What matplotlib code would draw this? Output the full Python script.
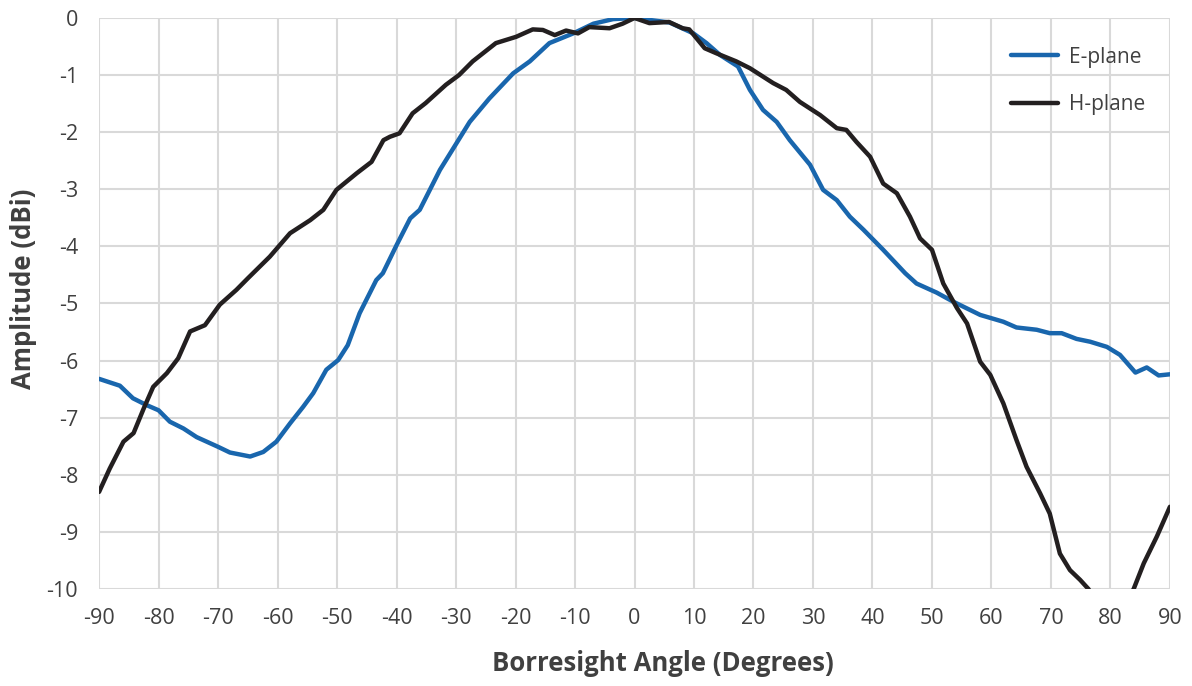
import matplotlib.pyplot as plt

# E-plane (blue)
e_angle = [-90, -86.5, -84.3, -82, -80, -78.1, -75.8, -73.6, -70, -68, -64.6, -62.4,
           -60.2, -57.9, -55.7, -54, -51.8, -49.8, -48.2, -46.2, -43.4, -42.3, -40,
           -37.7, -36.1, -32.7, -29.9, -27.7, -24.4, -20.4, -17.6, -14.3, -10.3, -6.9,
           -3.6, 0, 5.9, 9.9, 12.1, 14.4, 17.4, 19.4, 21.6, 23.9, 26.1, 29.5, 31.7,
           34, 36.2, 38.5, 41.8, 45.5, 47.4, 50.8, 53.6, 58.1, 62, 64.2, 67.6, 69.8,
           71.8, 74.3, 76.6, 79.4, 81.6, 84.2, 86.1, 88.1, 90]
e_amp = [-6.32, -6.44, -6.66, -6.78, -6.87, -7.07, -7.19, -7.34, -7.51, -7.61, -7.68, -7.60,
         -7.42, -7.10, -6.81, -6.57, -6.16, -5.99, -5.73, -5.17, -4.59, -4.47, -3.98,
         -3.51, -3.36, -2.66, -2.19, -1.82, -1.41, -0.97, -0.76, -0.44, -0.27, -0.10,
         -0.02, 0.0, -0.08, -0.27, -0.44, -0.65, -0.85, -1.26, -1.61, -1.82, -2.14, -2.57, -3.01,
         -3.19, -3.48, -3.71, -4.06, -4.47, -4.65, -4.81, -4.97, -5.20, -5.32, -5.42, -5.46, -5.52,
         -5.52, -5.62, -5.67, -5.76, -5.90, -6.21, -6.12, -6.26, -6.24]

# H-plane (black)
h_angle = [-90, -88.2, -85.9, -84.2, -82.5, -80.9, -78.6, -76.7, -74.7, -72.2, -69.7,
           -66.9, -65, -61.3, -57.9, -54.5, -52.3, -50.1, -46.7, -44.2, -42.2, -41.1,
           -39.5, -37.3, -35.1, -31.7, -29.5, -27.2, -23.3, -19.9, -17.1, -15.4, -13.4,
           -11.5, -9.5, -7.6, -4.2, -2, 0, 2.5, 5.8, 8.1, 9.2, 11.8, 13.8, 17.1, 19.4,
           23.3, 25.5, 27.8, 31.2, 34, 35.6, 37.3, 39.6, 41.8, 44.1, 46.3, 48, 50,
           51.9, 54.2, 55.9, 58.1, 59.8, 62, 64.2, 65.9, 68.2, 69.8, 71.5, 73.2, 74.9,
           76.3, 78, 80, 82, 83.9, 85.6, 87.8, 90]
h_amp = [-8.30, -7.89, -7.42, -7.27, -6.84, -6.46, -6.22, -5.96, -5.49, -5.38, -5.02,
         -4.76, -4.56, -4.18, -3.77, -3.54, -3.36, -3.01, -2.72, -2.52, -2.14, -2.08,
         -2.02, -1.67, -1.49, -1.17, -1.00, -0.76, -0.44, -0.33, -0.20, -0.21, -0.30,
         -0.22, -0.27, -0.16, -0.18, -0.10, 0.0, -0.09, -0.07, -0.18, -0.20, -0.53, -0.62, -0.76, -0.88,
         -1.14, -1.26, -1.47, -1.70, -1.93, -1.96, -2.17, -2.43, -2.90, -3.07, -3.48, -3.86, -4.06,
         -4.65, -5.08, -5.35, -6.02, -6.25, -6.75, -7.39, -7.86, -8.33, -8.68, -9.38, -9.67, -9.84,
         -10.0, -10.3, -10.45, -10.35, -10.0, -9.55, -9.08, -8.56]

x_ticks = list(range(-90, 91, 10))
y_ticks = list(range(-10, 1))

TEXT = "#404040"
plt.rcParams["font.family"] = ["Open Sans", "DejaVu Sans"]
plt.rcParams["axes.unicode_minus"] = False

fig = plt.figure(figsize=(11.92, 6.86), dpi=100)
ax = fig.add_axes([0.0831, 0.1414, 0.8984, 0.8324])

ax.plot(e_angle, e_amp, color="#1966ad", lw=3.2, label="E-plane",
        solid_joinstyle="round", solid_capstyle="round")
ax.plot(h_angle, h_amp, color="#231f20", lw=3.2, label="H-plane",
        solid_joinstyle="round", solid_capstyle="round")

ax.set_xlim(-90, 90)
ax.set_ylim(-10, 0)
ax.set_xticks(x_ticks)
ax.set_yticks(y_ticks)
ax.grid(True, color="#d9d9d9", lw=1.5)
ax.set_axisbelow(True)
for s in ax.spines.values():
    s.set_visible(False)
ax.tick_params(length=0, labelsize=15.5, labelcolor=TEXT)
ax.tick_params(axis="x", pad=14)
ax.tick_params(axis="y", pad=15)

ax.set_xlabel("Borresight Angle (Degrees)", fontsize=18.5, fontweight="bold", color=TEXT)
ax.set_ylabel("Amplitude (dBi)", fontsize=18.5, fontweight="bold", color=TEXT)
ax.xaxis.set_label_coords(0.5266, -0.107)
ax.yaxis.set_label_coords(-0.058, 0.526)

leg = ax.legend(loc="upper left", bbox_to_anchor=(0.8513, 0.95), frameon=False,
                fontsize=15, handlelength=2.27, handletextpad=0.53, labelspacing=1.28,
                borderpad=0, borderaxespad=0, labelcolor=TEXT)

fig.savefig("out.png", dpi=100)
